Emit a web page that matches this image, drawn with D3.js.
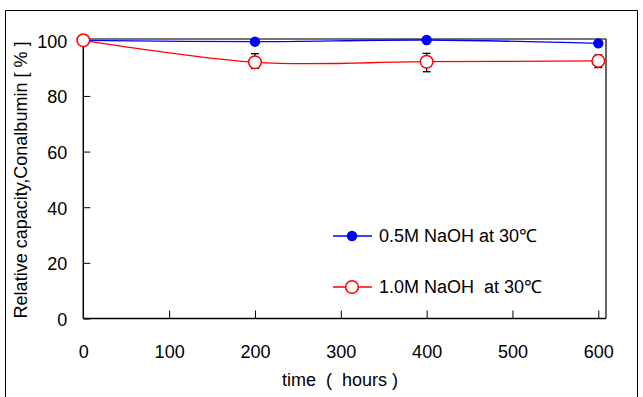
<!DOCTYPE html>
<html><head><meta charset="utf-8">
<script src="https://cdn.jsdelivr.net/npm/d3@7"></script>
<style>body{margin:0;background:#fff}svg{display:block}text{font-family:"Liberation Sans",Arial,sans-serif;fill:#000}</style>
</head><body><svg id="c" width="643" height="397"></svg>
<script>
const times = [0, 200, 400, 600];
const naoh05 = [100, 99.5, 100.1, 98.9];
const naoh10 = [100, 92.1, 92.3, 92.6];
const naoh10Lo = [null, 89.9, 88.7, 90.2];
const naoh10Hi = [null, 95.2, 95.3, 94.7];
const xTicks = [0, 100, 200, 300, 400, 500, 600];
const yTicks = [0, 20, 40, 60, 80, 100];
const seriesNames = ["0.5M NaOH at 30\u2103", "1.0M NaOH\u00a0 at 30\u2103"];

const svg = d3.select("#c");
const x = d3.scaleLinear().domain([0, 600]).range([83.3, 598.3]);
const y = d3.scaleLinear().domain([0, 100]).range([318.5, 40.3]);
const plotRight = 606, plotTop = 39;

// outer frame
svg.append("path").attr("d", `M5.5,397 V10.5 H637.5 V397`).attr("fill","none").attr("stroke","#000").attr("stroke-width",1);

// plot frame
svg.append("line").attr("x1",x(0)).attr("x2",plotRight).attr("y1",plotTop).attr("y2",plotTop).attr("stroke","#777").attr("stroke-width",2);
svg.append("line").attr("x1",plotRight).attr("x2",plotRight).attr("y1",plotTop).attr("y2",y(0)).attr("stroke","#000").attr("stroke-width",1.2);

// axes
const yAxis = d3.axisLeft(y).tickValues(yTicks).tickSize(-7).tickPadding(16);
const gy = svg.append("g").attr("transform",`translate(${x(0)},0)`).call(yAxis);
gy.select(".domain").attr("d", `M0,${plotTop}V${y(0)}`).attr("stroke","#000").attr("stroke-width",1.5);
gy.selectAll("text").style("font-size","18px").attr("dy","0.38em");
gy.selectAll(".tick line").attr("stroke","#000");

const xAxis = d3.axisBottom(x).tickValues(xTicks).tickSize(-8).tickPadding(27);
const gx = svg.append("g").attr("transform",`translate(0,${y(0)})`).call(xAxis);
gx.select(".domain").attr("d", `M${x(0)},0H${plotRight}`).attr("stroke","#000").attr("stroke-width",1.5);
gx.selectAll("text").style("font-size","18px");
gx.selectAll(".tick line").attr("stroke","#000");
gx.selectAll(".tick").filter(d => d === 0).select("line").remove();

// titles
svg.append("text").attr("x",340).attr("y",386).attr("text-anchor","middle").style("font-size","18px").text("time\u00a0\u00a0(\u00a0 hours\u00a0)");
svg.append("text").attr("transform","translate(27,180) rotate(-90)").attr("text-anchor","middle").style("font-size","18px").text("Relative capacity,Conalbumin [ % ]");

// lines
const line = d3.line().x((d,i)=>x(times[i])).y(d=>y(d)).curve(d3.curveCatmullRom.alpha(0.5));
svg.append("path").datum(naoh05).attr("d",line).attr("fill","none").attr("stroke","#0000ff").attr("stroke-width",1.3);
svg.append("path").datum(naoh10).attr("d",line).attr("fill","none").attr("stroke","#ff0000").attr("stroke-width",1.3);

// error bars
const eb = times.map((t,i)=>({t, lo:naoh10Lo[i], hi:naoh10Hi[i]})).filter(d=>d.lo!==null);
const ge = svg.append("g").attr("stroke","#000").attr("stroke-width",1.3);
eb.forEach(d=>{
  ge.append("line").attr("x1",x(d.t)).attr("x2",x(d.t)).attr("y1",y(d.lo)).attr("y2",y(d.hi));
  ge.append("line").attr("x1",x(d.t)-4).attr("x2",x(d.t)+4).attr("y1",y(d.lo)).attr("y2",y(d.lo));
  ge.append("line").attr("x1",x(d.t)-4).attr("x2",x(d.t)+4).attr("y1",y(d.hi)).attr("y2",y(d.hi));
});

// markers
svg.append("g").selectAll("circle").data(naoh05).join("circle")
  .attr("cx",(d,i)=>x(times[i])).attr("cy",d=>y(d)).attr("r",5.2).attr("fill","#0000ff");
svg.append("g").selectAll("circle").data(naoh10).join("circle")
  .attr("cx",(d,i)=>x(times[i])).attr("cy",d=>y(d)).attr("r",6.3).attr("fill","#fff").attr("stroke","#ff0000").attr("stroke-width",1.5);

// legend
const leg = [{c:"#0000ff", fill:"#0000ff", r:5.2, yy:236},{c:"#ff0000", fill:"#fff", r:6.3, yy:287}];
leg.forEach((l,i)=>{
  svg.append("line").attr("x1",333).attr("x2",372).attr("y1",l.yy).attr("y2",l.yy).attr("stroke",l.c).attr("stroke-width",1.3);
  svg.append("circle").attr("cx",352).attr("cy",l.yy).attr("r",l.r).attr("fill",l.fill).attr("stroke",l.c).attr("stroke-width",i?1.5:0);
  svg.append("text").attr("x",379).attr("y",l.yy).attr("dy","0.36em").style("font-size","18px").text(seriesNames[i]);
});
</script></body></html>
